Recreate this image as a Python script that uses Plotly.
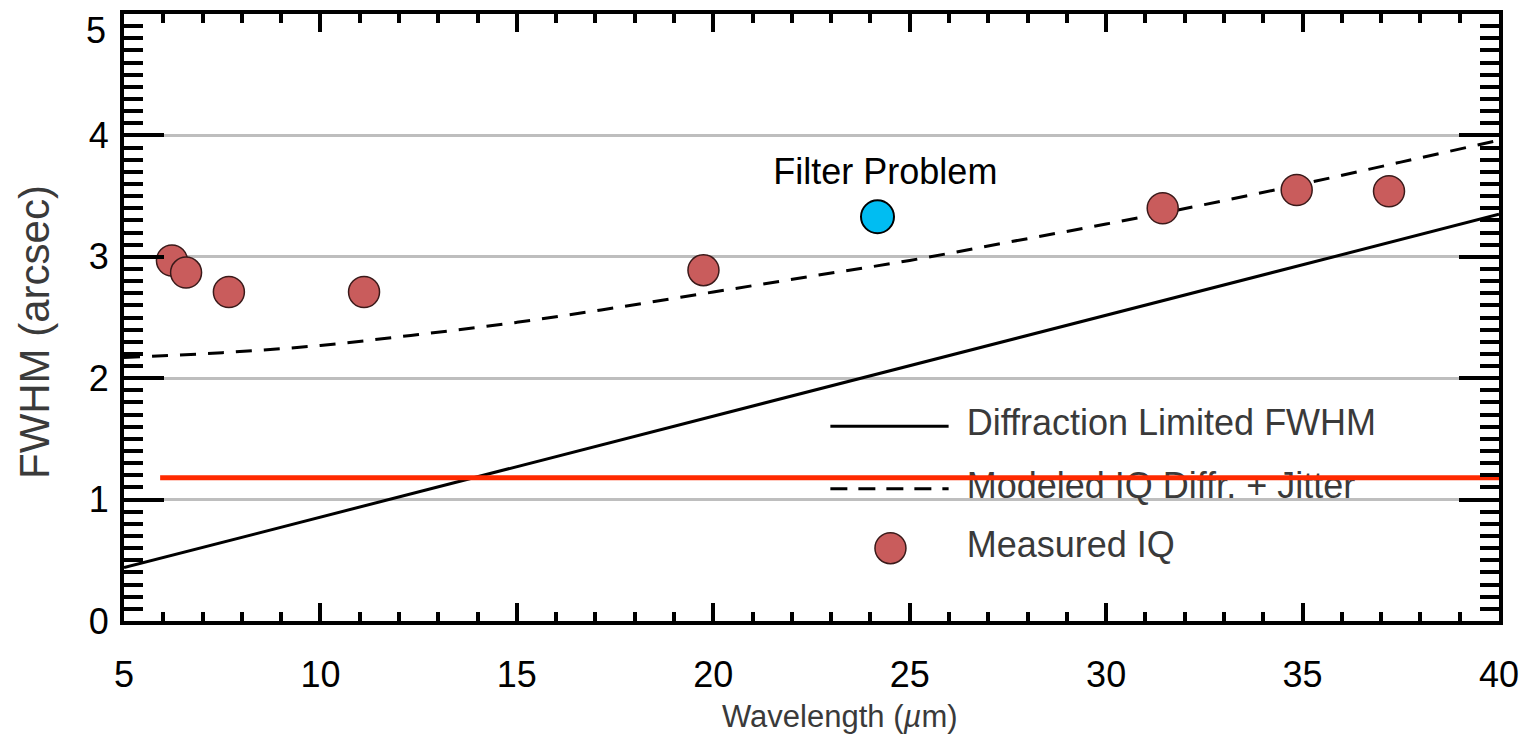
import plotly.graph_objects as go

# Measured image quality
meas_wl = [6.22, 6.58, 7.67, 11.11, 19.75, 31.44, 34.85, 37.2]
meas_fwhm = [2.97, 2.87, 2.71, 2.71, 2.89, 3.40, 3.55, 3.54]

# Filter problem point
filt_wl = [24.18]
filt_fwhm = [3.33]

# Diffraction limited FWHM (straight line)
diff_wl = [5, 40]
diff_fwhm = [0.44, 3.35]

# Modeled IQ Diffr. + Jitter
model_wl = [5, 7.5, 10, 12.5, 15, 17.5, 20, 22.5, 25, 27.5, 30, 32.5, 35, 37.5, 40]
model_fwhm = [2.17, 2.21, 2.27, 2.36, 2.46, 2.58, 2.71, 2.84, 2.97, 3.12, 3.27, 3.43, 3.60, 3.78, 3.96]

# Requirement line (red)
req_wl = [5.92, 40]
req_fwhm = [1.18, 1.18]

# Axis ticks
x_ticks = [5, 10, 15, 20, 25, 30, 35, 40]
y_ticks = [0, 1, 2, 3, 4, 5]
y_ticktext = ["0", "1", "2", "3", "4", ""]   # top label "5" drawn as annotation (sits inside frame)

# Legend
legend_labels = ["Diffraction Limited FWHM", "Modeled IQ Diffr. + Jitter", "Measured IQ"]
legend_y = [1.605, 1.09, 0.60]
legend_line_x = [22.98, 25.99]
legend_marker_x = 24.51
legend_text_x = 26.45

FONT = "Liberation Sans, Arial, Helvetica, sans-serif"
RED = "#C95C5C"
GRAYTXT = "#3a3a3a"

fig = go.Figure()

fig.add_trace(go.Scatter(x=diff_wl, y=diff_fwhm, mode="lines",
                         line=dict(color="black", width=3), showlegend=False))
fig.add_trace(go.Scatter(x=model_wl, y=model_fwhm, mode="lines",
                         line=dict(color="black", width=3, dash="16px,12px", shape="spline"),
                         showlegend=False))

# legend samples
fig.add_trace(go.Scatter(x=legend_line_x, y=[legend_y[0]] * 2, mode="lines",
                         line=dict(color="black", width=3), showlegend=False))
fig.add_trace(go.Scatter(x=legend_line_x, y=[legend_y[1]] * 2, mode="lines",
                         line=dict(color="black", width=3, dash="17px,11px"), showlegend=False))
fig.add_trace(go.Scatter(x=[legend_marker_x], y=[legend_y[2]], mode="markers",
                         marker=dict(size=31, color=RED, line=dict(color="#3a1a1a", width=1.5)),
                         showlegend=False))
fig.add_trace(go.Scatter(x=[legend_text_x] * 3, y=legend_y, mode="text", text=legend_labels,
                         textposition="middle right",
                         textfont=dict(family=FONT, size=36, color=GRAYTXT), showlegend=False))

fig.add_trace(go.Scatter(x=[24.38], y=[3.67], mode="text", text=["Filter Problem"],
                         textposition="middle center",
                         textfont=dict(family=FONT, size=36, color="black"), showlegend=False))

fig.add_trace(go.Scatter(x=meas_wl, y=meas_fwhm, mode="markers",
                         marker=dict(size=31, color=RED, line=dict(color="#3a1a1a", width=1.5)),
                         showlegend=False))
fig.add_trace(go.Scatter(x=filt_wl, y=filt_fwhm, mode="markers",
                         marker=dict(size=33, color="#00BDF2", line=dict(color="black", width=2)),
                         showlegend=False))

fig.add_trace(go.Scatter(x=req_wl, y=req_fwhm, mode="lines",
                         line=dict(color="#FF2A00", width=5), showlegend=False))

fig.update_layout(
    width=1529, height=754,
    margin=dict(l=124, r=30, t=10, b=133),
    paper_bgcolor="white", plot_bgcolor="white",
    font=dict(family=FONT, color="black"),
    xaxis=dict(range=[5, 40], tickmode="array", tickvals=x_ticks, ticktext=[str(v) for v in x_ticks],
               showgrid=False, zeroline=False,
               showline=True, linewidth=4, linecolor="black", mirror="allticks",
               ticks="inside", ticklen=18, tickwidth=4, tickcolor="black",
               minor=dict(dtick=1, tick0=5, ticks="inside", ticklen=9, tickwidth=4, tickcolor="black"),
               tickfont=dict(size=36, color="black", family=FONT), ticklabelstandoff=19),
    yaxis=dict(range=[0, 5.0001], tickmode="array", tickvals=y_ticks, ticktext=y_ticktext,
               showgrid=True, gridcolor="#BEBEBE", gridwidth=3,
               zeroline=False, showline=True, linewidth=4, linecolor="black", mirror="allticks",
               ticks="inside", ticklen=40, tickwidth=4, tickcolor="black",
               minor=dict(dtick=0.1, tick0=0, ticks="inside", ticklen=19, tickwidth=4, tickcolor="black",
                          showgrid=False),
               tickfont=dict(size=36, color="black", family=FONT), ticklabelstandoff=4),
    annotations=[
        dict(text="5", xref="paper", yref="paper", x=-0.0116, y=0.972,
             xanchor="right", yanchor="middle", showarrow=False,
             font=dict(size=36, color="black", family=FONT)),
        dict(text="Wavelength (<i>µ</i>m)", xref="paper", yref="paper", x=0.521, y=-0.158,
             xanchor="center", yanchor="middle", showarrow=False,
             font=dict(size=31, color=GRAYTXT, family=FONT)),
        dict(text="FWHM (arcsec)", xref="paper", yref="paper", x=-0.0655, y=0.476,
             xanchor="center", yanchor="middle", textangle=-90, showarrow=False,
             font=dict(size=42, color=GRAYTXT, family=FONT)),
    ],
)

fig.write_html("out.html", config={"displayModeBar": False})
